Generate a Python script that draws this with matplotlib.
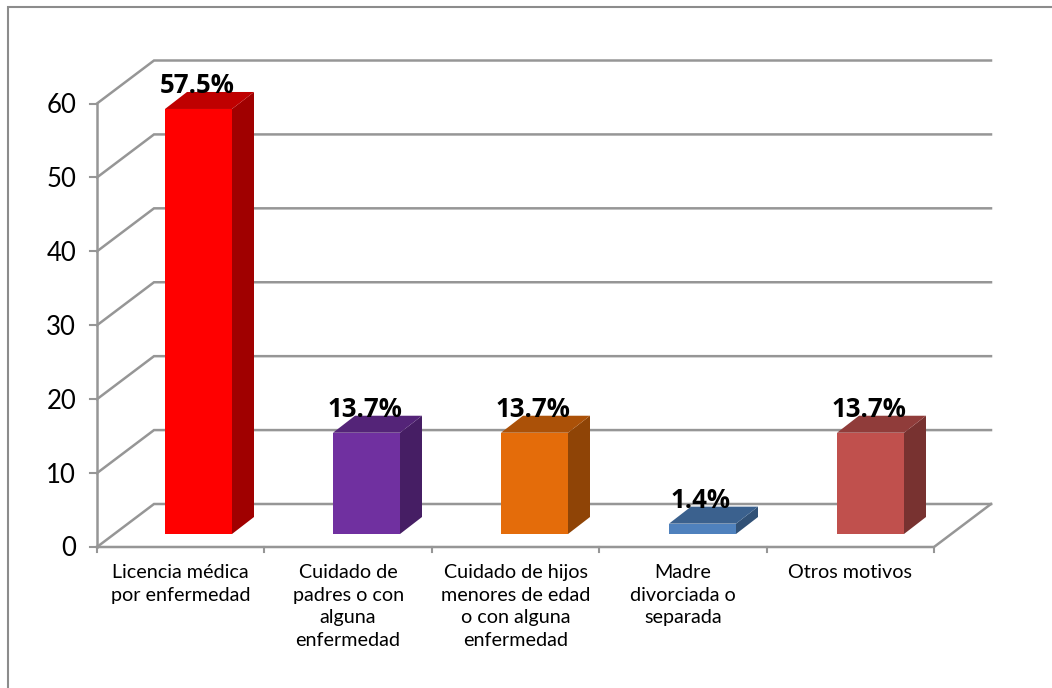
import matplotlib
matplotlib.use("Agg")
import matplotlib.pyplot as plt
from matplotlib.lines import Line2D
from matplotlib.patches import Polygon, Rectangle

categories = [
    "Licencia médica\npor enfermedad",
    "Cuidado de\npadres o con\nalguna\nenfermedad",
    "Cuidado de hijos\nmenores de edad\no con alguna\nenfermedad",
    "Madre\ndivorciada o\nseparada",
    "Otros motivos",
]
values = [57.5, 13.7, 13.7, 1.4, 13.7]
labels = ["57.5%", "13.7%", "13.7%", "1.4%", "13.7%"]
front_colors = ["#FF0000", "#7030A0", "#E46C0A", "#4F81BD", "#C0504D"]
top_colors = ["#BF0000", "#542478", "#AB5108", "#3B618E", "#903C3A"]
side_colors = ["#A00000", "#461E64", "#8F4406", "#315176", "#783230"]
y_ticks = [0, 10, 20, 30, 40, 50, 60]

W, H = 1052, 688
GRID = "#969696"
FONT = "Lato"

fig = plt.figure(figsize=(W / 100, H / 100), dpi=100)
# frame only shows on the top and left, the rest is cropped away
fig.add_artist(Line2D([8 / W, 8 / W, 1], [0, 1 - 7 / H, 1 - 7 / H], transform=fig.transFigure,
                      color="#8C8C8C", linewidth=1.5, solid_joinstyle="miter"))

# axes covers the front plane of the 3d box
ax = fig.add_axes([97 / W, 1 - 547 / H, 837 / W, 443.5 / H])
ax.set_xlim(0, 5)
ax.set_ylim(0, 60)
ax.axis("off")

px_x = 5 / 837
px_y = 60 / 443.5
depth_x = 57 * px_x
depth_y = 43 * px_y

# walls and gridlines
for t in y_ticks:
    ax.plot([0, depth_x, 5 + depth_x], [t, t + depth_y, t + depth_y], color=GRID,
            linewidth=1.8, clip_on=False, solid_joinstyle="miter", zorder=1)
    ax.plot([-7 * px_x, 0], [t, t], color=GRID, linewidth=1.5, clip_on=False, zorder=1)
    ax.text(-21 * px_x, t - 2 * px_y, str(t), ha="right", va="center", fontsize=18.5,
            family=FONT, color="black")
ax.plot([0, 0], [0, 60], color=GRID, linewidth=1.8, clip_on=False, zorder=1)
ax.plot([0, 5, 5 + depth_x], [0, 0, depth_y], color=GRID, linewidth=1.8, clip_on=False,
        solid_joinstyle="miter", zorder=1)
for i in range(6):
    ax.plot([i, i], [0, -5 * px_y], color=GRID, linewidth=1.5, clip_on=False, zorder=1)

# bars
bar_w = 67 * px_x
bar_dx = 22 * px_x
bar_dy = 17 * px_y
bar_pitch = 168 * px_x
first_x = 165 * px_x - 97 * px_x
off_y = 13 * px_y
for i, v in enumerate(values):
    x0 = first_x + i * bar_pitch
    x1 = x0 + bar_w
    y0 = off_y
    y1 = off_y + v
    ax.add_patch(Polygon([(x1, y0), (x1 + bar_dx, y0 + bar_dy), (x1 + bar_dx, y1 + bar_dy), (x1, y1)],
                         facecolor=side_colors[i], edgecolor="none", clip_on=False, zorder=3))
    ax.add_patch(Polygon([(x0, y1), (x0 + bar_dx, y1 + bar_dy), (x1 + bar_dx, y1 + bar_dy), (x1, y1)],
                         facecolor=top_colors[i], edgecolor="none", clip_on=False, zorder=3))
    ax.add_patch(Rectangle((x0, y0), bar_w, v, facecolor=front_colors[i], edgecolor="none",
                           clip_on=False, zorder=3))
    ax.text(x0 + bar_w / 2 - 1.5 * px_x, y1 + bar_dy - 1 * px_y, labels[i], ha="center", va="baseline",
            fontsize=18.5, fontweight="bold", family="Open Sans", color="black", zorder=5)
    ax.text(i + 0.5, -17 * px_y, categories[i], ha="center", va="top", fontsize=14.2,
            family=FONT, color="black", linespacing=1.4)

fig.savefig("out.png", dpi=100)
